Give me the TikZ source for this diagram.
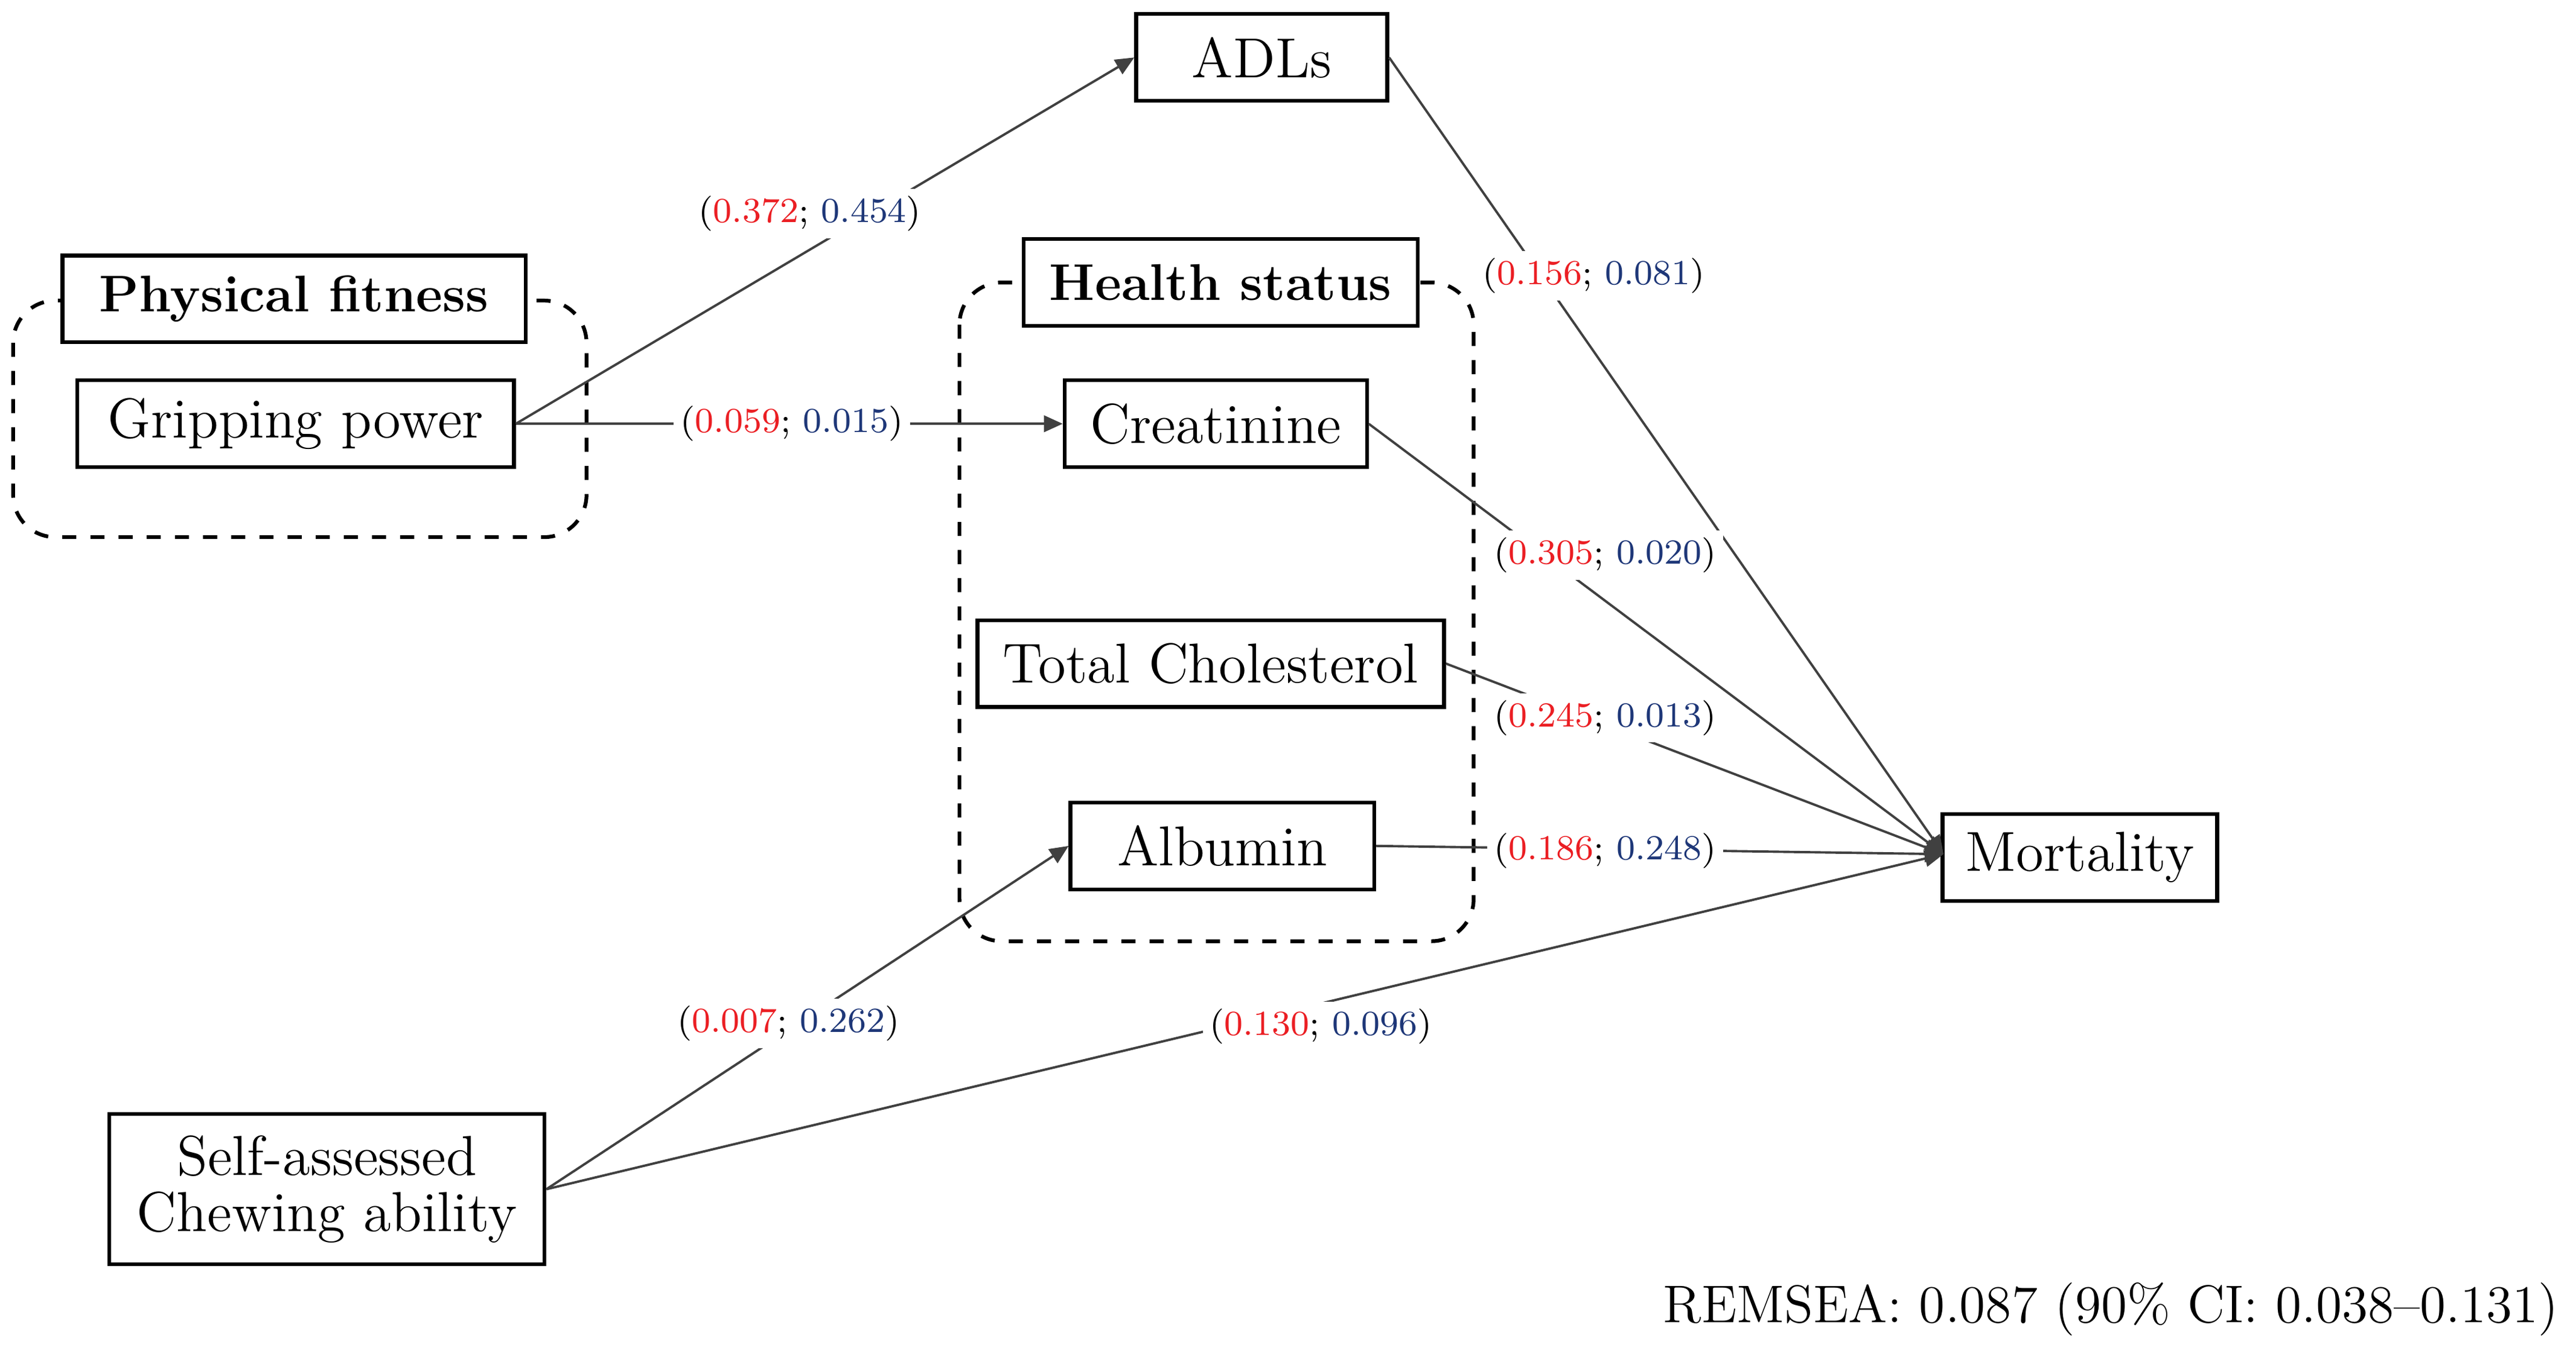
\documentclass[tikz,border=0pt]{standalone}
\usetikzlibrary{arrows.meta}
\definecolor{cr}{RGB}{235,30,35}
\definecolor{cb}{RGB}{30,55,120}
\begin{document}
\begin{tikzpicture}[x=0.35pt,y=-0.35pt,
  box/.style={draw,thick,minimum height=18.5pt,inner sep=0pt,font=\fontsize{12}{14}\selectfont},
  grp/.style={draw,dashed,rounded corners=9pt,thick},
  lbl/.style={fill=white,inner sep=1.5pt,font=\fontsize{7.5}{9}\selectfont},
  con/.style={draw=black!75,line width=0.5pt},
  arr/.style={con,-{Triangle[length=4pt,width=3.5pt]}}]
\useasboundingbox (0,0) rectangle (1568,827);
\draw[grp] (8,183) rectangle (357,327);
\draw[grp] (584,172) rectangle (897,573);
\node[box,fill=white,minimum width=98.7pt,font=\fontsize{11}{13}\selectfont\bfseries] (pf) at (179,182) {Physical fitness};
\node[box,minimum width=93pt] (gp) at (180,258) {Gripping power};
\node[box,fill=white,minimum width=84pt,font=\fontsize{11}{13}\selectfont\bfseries] (hs) at (743,172) {Health status};
\node[box,minimum width=64.4pt] (cr) at (740,258) {Creatinine};
\node[box,minimum width=99.4pt] (tc) at (737,404) {Total Cholesterol};
\node[box,minimum width=64.7pt] (al) at (744,515) {Albumin};
\node[box,minimum width=53.5pt] (adl) at (768,35) {ADLs};
\node[box,minimum width=58.5pt] (mo) at (1266,522) {Mortality};
\node[box,minimum width=92.7pt,minimum height=32pt,align=center] (ch) at (199,724) {Self-assessed\\[-2pt]Chewing ability};
\node[anchor=east,inner sep=0pt,font=\fontsize{11.3}{14}\selectfont] (rm) at (1558,797) {REMSEA: 0.087 (90\% CI: 0.038--0.131)};
\coordinate (mw) at (1183,520);
\draw[arr] (gp.east) -- (adl.west);
\draw[arr] (gp.east) -- (cr.west);
\draw[arr] (adl.east) -- (mw);
\draw[arr] (cr.east) -- (mw);
\draw[arr] (tc.east) -- (mw);
\draw[arr] (al.east) -- (mw);
\draw[arr] (ch.east) -- (al.west);
\draw[arr] (ch.east) -- (mw);
\node[lbl] (l1) at (493,130) {(\textcolor{cr}{0.372}; \textcolor{cb}{0.454})};
\node[lbl] (l2) at (482,258) {(\textcolor{cr}{0.059}; \textcolor{cb}{0.015})};
\node[lbl] (l3) at (970,168) {(\textcolor{cr}{0.156}; \textcolor{cb}{0.081})};
\node[lbl] (l4) at (977,338) {(\textcolor{cr}{0.305}; \textcolor{cb}{0.020})};
\node[lbl] (l5) at (977,437) {(\textcolor{cr}{0.245}; \textcolor{cb}{0.013})};
\node[lbl] (l6) at (977,518) {(\textcolor{cr}{0.186}; \textcolor{cb}{0.248})};
\node[lbl] (l7) at (480,623) {(\textcolor{cr}{0.007}; \textcolor{cb}{0.262})};
\node[lbl] (l8) at (804,625) {(\textcolor{cr}{0.130}; \textcolor{cb}{0.096})};
\end{tikzpicture}
\end{document}
